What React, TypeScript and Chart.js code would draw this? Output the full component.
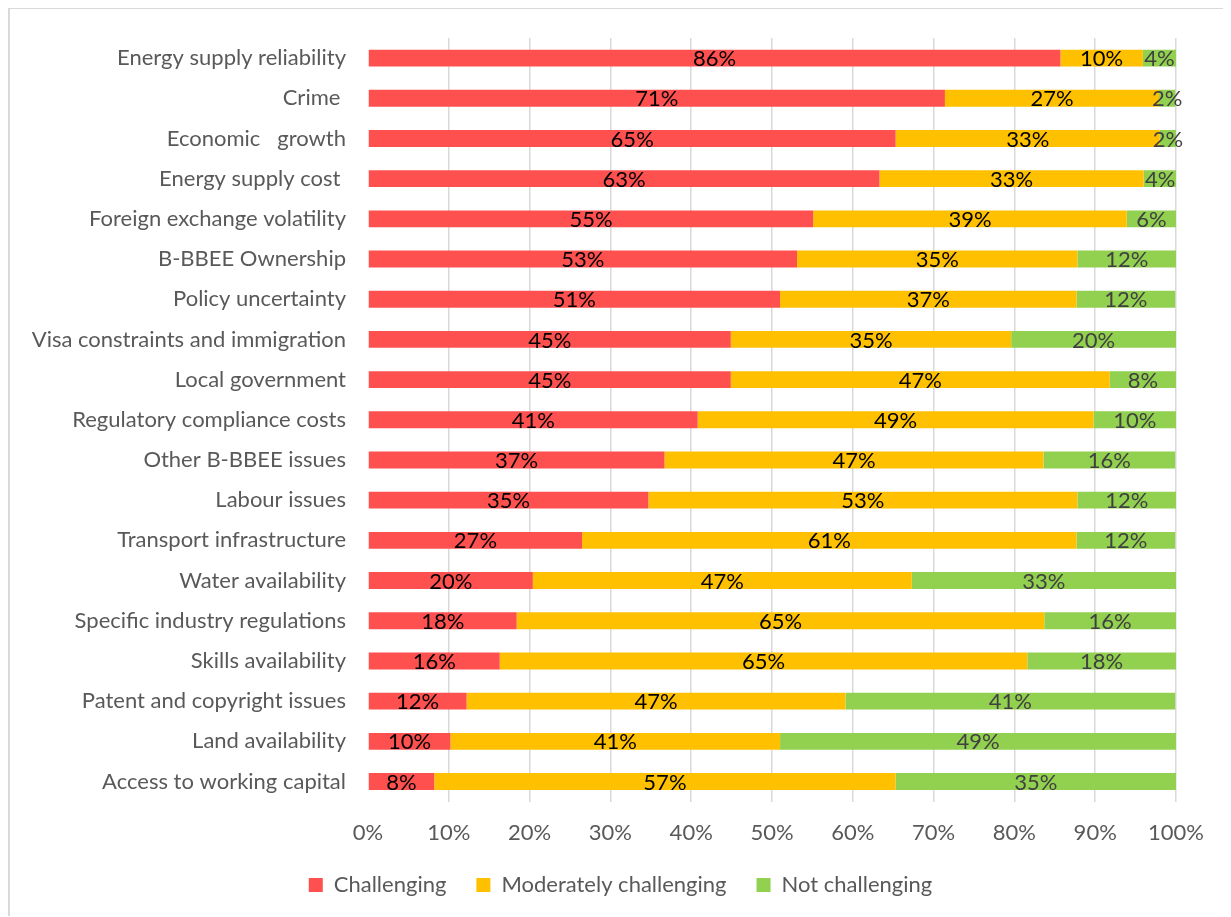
import React, { useEffect, useRef } from "react";
import { Chart, registerables } from "chart.js";

Chart.register(...registerables);

const categories = [
  "Energy supply reliability",
  "Crime ",
  "Economic   growth",
  "Energy supply cost ",
  "Foreign exchange volatility",
  "B-BBEE Ownership",
  "Policy uncertainty",
  "Visa constraints and immigration",
  "Local government",
  "Regulatory compliance costs",
  "Other B-BBEE issues",
  "Labour issues",
  "Transport infrastructure",
  "Water availability",
  "Specific industry regulations",
  "Skills availability",
  "Patent and copyright issues",
  "Land availability",
  "Access to working capital",
];

const challenging = [85.7, 71.4, 65.3, 63.3, 55.1, 53.1, 51.0, 44.9, 44.9, 40.8, 36.7, 34.7, 26.5, 20.4, 18.4, 16.3, 12.2, 10.2, 8.2];
const moderately = [10.2, 26.5, 32.7, 32.7, 38.8, 34.7, 36.7, 34.7, 46.9, 49.0, 46.9, 53.1, 61.2, 46.9, 65.3, 65.3, 46.9, 40.8, 57.1];
const notChallenging = [4.1, 2.0, 2.0, 4.1, 6.1, 12.2, 12.2, 20.4, 8.2, 10.2, 16.3, 12.2, 12.2, 32.7, 16.3, 18.4, 40.8, 49.0, 34.7];

const xTicks = [0, 10, 20, 30, 40, 50, 60, 70, 80, 90, 100];

const FONT = "Lato, 'Open Sans', sans-serif";

const labelPlugin = {
  id: "segLabels",
  afterDatasetsDraw(chart: any) {
    const ctx = chart.ctx;
    ctx.save();
    ctx.font = `22px ${FONT}`;
    ctx.textAlign = "center";
    ctx.textBaseline = "middle";
    chart.data.datasets.forEach((ds: any, di: number) => {
      const meta = chart.getDatasetMeta(di);
      ctx.fillStyle = ds.labelColor;
      meta.data.forEach((el: any, i: number) => {
        const v = ds.data[i];
        const cx = (el.x + el.base) / 2;
        ctx.fillText(Math.round(v) + "%", cx, el.y + 1);
      });
    });
    ctx.restore();
  },
};

// centre the legend on the whole canvas rather than on the padded layout area
const legendShift = {
  id: "legendShift",
  afterLayout(chart: any) {
    const lg = chart.legend;
    if (lg) {
      lg.left = 0;
      lg.right = chart.width;
    }
  },
};

export default function App() {
  const ref = useRef<HTMLCanvasElement>(null);
  useEffect(() => {
    const chart = new Chart(ref.current!, {
      type: "bar",
      data: {
        labels: categories,
        datasets: [
          { label: "Challenging", data: challenging, backgroundColor: "#FF5050", labelColor: "#000000" } as any,
          { label: "Moderately challenging", data: moderately, backgroundColor: "#FFC000", labelColor: "#000000" } as any,
          { label: "Not challenging", data: notChallenging, backgroundColor: "#92D050", labelColor: "#404040" } as any,
        ],
      },
      options: {
        indexAxis: "y",
        animation: false,
        responsive: true,
        maintainAspectRatio: false,
        datasets: { bar: { barPercentage: 0.84, categoryPercentage: 0.5 } },
        layout: { padding: { top: 29, right: 55, bottom: 10, left: 0 } },
        scales: {
          x: {
            stacked: true,
            min: 0,
            max: 100,
            afterBuildTicks: (s: any) => {
              s.ticks = xTicks.map((v) => ({ value: v }));
            },
            afterFit: (s: any) => {
              s.paddingLeft = 0;
              s.paddingRight = 0;
              s.height = s.height - 20;
            },
            ticks: {
              callback: (v: any) => v + "%",
              color: "#595959",
              font: { family: FONT, size: 22 },
              padding: 18,
              maxRotation: 0,
            },
            grid: {
              color: (c: any) => (c.index === 0 ? "rgba(0,0,0,0)" : "#d9d9d9"),
              lineWidth: 1.5,
              drawTicks: true,
              tickLength: 0,
            },
            border: { display: false },
          },
          y: {
            stacked: true,
            afterFit: (s: any) => {
              s.width = 358;
              s.paddingTop = 0;
              s.paddingBottom = 0;
            },
            ticks: {
              color: "#595959",
              font: { family: FONT, size: 22 },
              padding: 22,
              autoSkip: false,
            },
            grid: { display: false, drawTicks: false },
            border: { display: false },
          },
        },
        plugins: {
          legend: {
            position: "bottom",
            labels: {
              color: "#595959",
              font: { family: FONT, size: 22 },
              boxWidth: 14,
              boxHeight: 14,
              padding: 30,
            },
          },
          tooltip: { enabled: false },
        },
      },
      plugins: [labelPlugin, legendShift],
    });
    return () => chart.destroy();
  }, []);
  return (
    <div
      style={{
        position: "relative",
        width: 1223,
        height: 909,
        marginTop: -1,
        borderLeft: "2px solid #d9d9d9",
        borderTop: "2px solid #d9d9d9",
        boxSizing: "border-box",
        background: "#fff",
      }}
    >
      <canvas ref={ref} />
    </div>
  );
}
